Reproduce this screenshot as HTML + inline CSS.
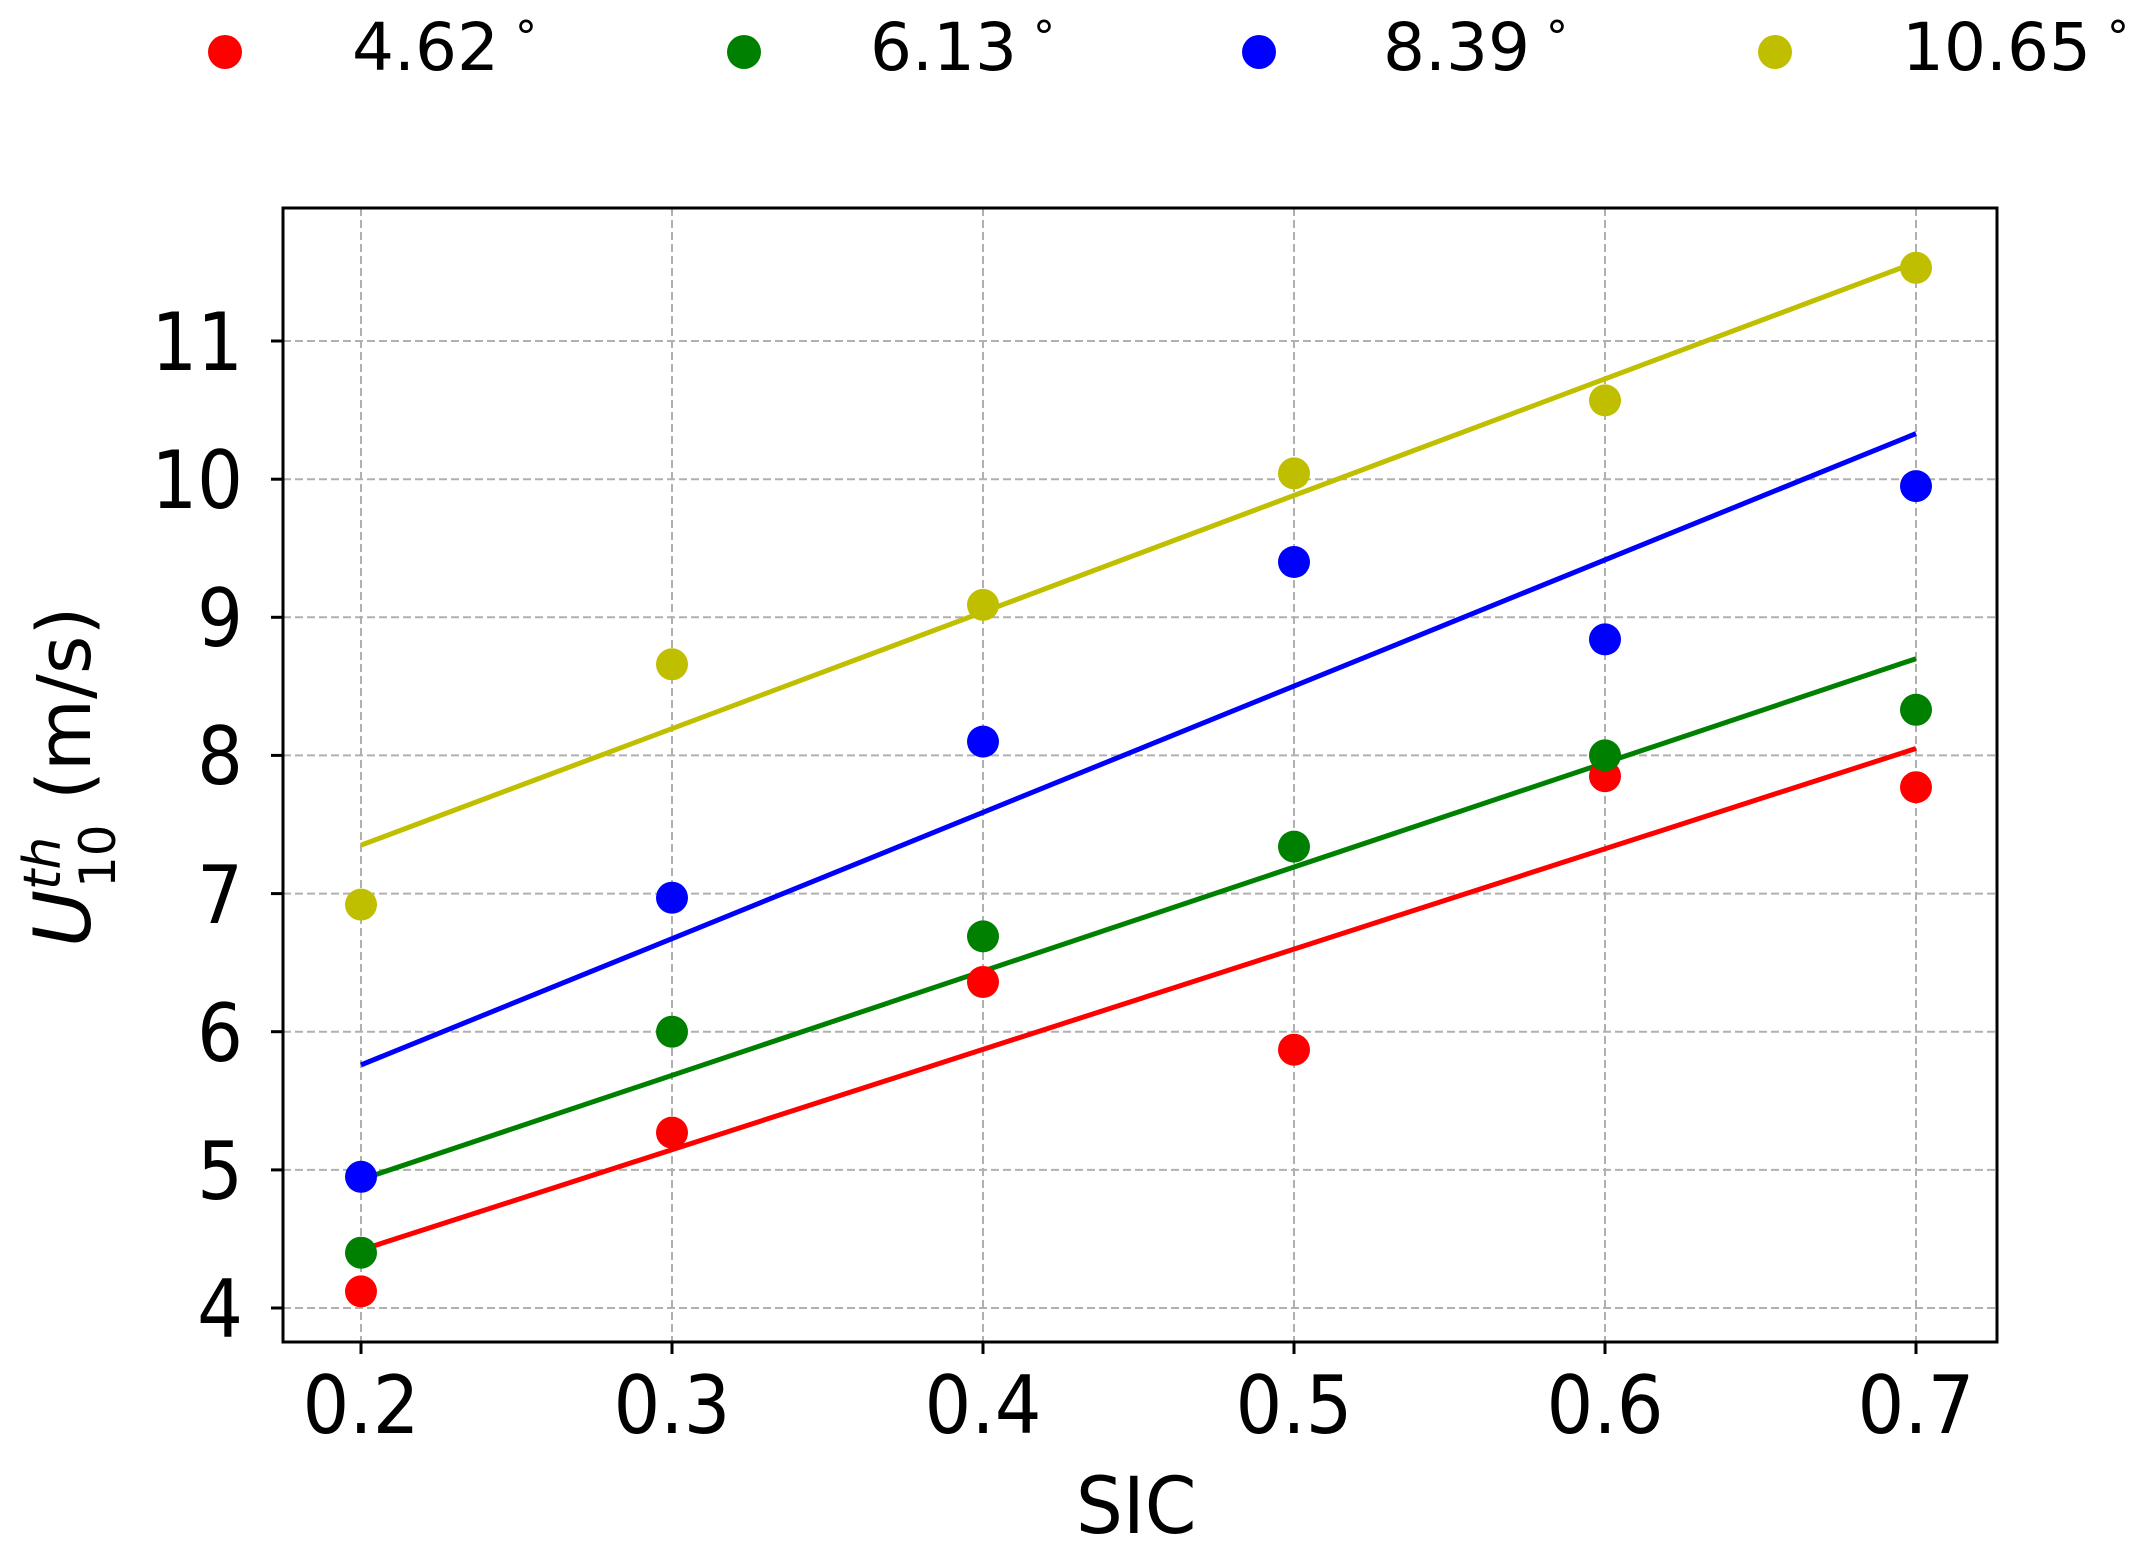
<!DOCTYPE html>
<html><head><meta charset="utf-8"><style>
html,body{margin:0;padding:0;background:#fff;}
svg{display:block;}
text{font-family:"DejaVu Sans","Liberation Sans",sans-serif;fill:#000;}
</style></head><body>
<svg width="2130" height="1553" viewBox="0 0 2130 1553" xmlns="http://www.w3.org/2000/svg">
<rect width="2130" height="1553" fill="#fff"/>
<!-- legend -->
<g font-size="66">
<circle cx="225" cy="52" r="17" fill="#ff0000"/><text x="352" y="70">4.62<tspan font-size="44" dx="16" dy="-18">°</tspan></text>
<circle cx="744" cy="52" r="17" fill="#008000"/><text x="870" y="70">6.13<tspan font-size="44" dx="16" dy="-18">°</tspan></text>
<circle cx="1259" cy="52" r="17" fill="#0000ff"/><text x="1383" y="70">8.39<tspan font-size="44" dx="16" dy="-18">°</tspan></text>
<circle cx="1775" cy="52" r="17" fill="#bfbf00"/><text x="1902" y="70">10.65<tspan font-size="44" dx="16" dy="-18">°</tspan></text>
</g>
<!-- grid -->
<g stroke="#b0b0b0" stroke-width="2" stroke-dasharray="8,4">
<line x1="361" y1="208" x2="361" y2="1342"/><line x1="672" y1="208" x2="672" y2="1342"/>
<line x1="983" y1="208" x2="983" y2="1342"/><line x1="1294" y1="208" x2="1294" y2="1342"/>
<line x1="1605" y1="208" x2="1605" y2="1342"/><line x1="1916" y1="208" x2="1916" y2="1342"/>
<line x1="283" y1="1308" x2="1997" y2="1308"/><line x1="283" y1="1169.9" x2="1997" y2="1169.9"/>
<line x1="283" y1="1031.7" x2="1997" y2="1031.7"/><line x1="283" y1="893.6" x2="1997" y2="893.6"/>
<line x1="283" y1="755.4" x2="1997" y2="755.4"/><line x1="283" y1="617.3" x2="1997" y2="617.3"/>
<line x1="283" y1="479.2" x2="1997" y2="479.2"/><line x1="283" y1="341" x2="1997" y2="341"/>
</g>
<!-- lines -->
<g stroke-width="5">
<line x1="361" y1="1250.0" x2="1916" y2="748.5" stroke="#ff0000"/>
<line x1="361" y1="1179.5" x2="1916" y2="658.7" stroke="#008000"/>
<line x1="361" y1="1064.9" x2="1916" y2="433.6" stroke="#0000ff"/>
<line x1="361" y1="845.2" x2="1916" y2="262.3" stroke="#bfbf00"/>
</g>
<!-- points -->
<g fill="#ff0000">
<circle cx="361" cy="1291.4" r="16"/><circle cx="672" cy="1132.6" r="16"/><circle cx="983" cy="982.0" r="16"/>
<circle cx="1294" cy="1049.7" r="16"/><circle cx="1605" cy="776.2" r="16"/><circle cx="1916" cy="787.2" r="16"/>
</g>
<g fill="#008000">
<circle cx="361" cy="1252.7" r="16"/><circle cx="672" cy="1031.7" r="16"/><circle cx="983" cy="936.4" r="16"/>
<circle cx="1294" cy="846.6" r="16"/><circle cx="1605" cy="755.4" r="16"/><circle cx="1916" cy="709.8" r="16"/>
</g>
<g fill="#0000ff">
<circle cx="361" cy="1176.8" r="16"/><circle cx="672" cy="897.7" r="16"/><circle cx="983" cy="741.6" r="16"/>
<circle cx="1294" cy="562.0" r="16"/><circle cx="1605" cy="639.4" r="16"/><circle cx="1916" cy="486.1" r="16"/>
</g>
<g fill="#bfbf00">
<circle cx="361" cy="904.6" r="16"/><circle cx="672" cy="664.3" r="16"/><circle cx="983" cy="604.9" r="16"/>
<circle cx="1294" cy="473.4" r="16"/><circle cx="1605" cy="400.4" r="16"/><circle cx="1916" cy="267.8" r="16"/>
</g>
<!-- axes box -->
<rect x="283" y="208" width="1714" height="1134" fill="none" stroke="#000" stroke-width="3"/>
<!-- ticks -->
<g stroke="#000" stroke-width="3">
<line x1="361" y1="1342" x2="361" y2="1354"/><line x1="672" y1="1342" x2="672" y2="1354"/><line x1="983" y1="1342" x2="983" y2="1354"/>
<line x1="1294" y1="1342" x2="1294" y2="1354"/><line x1="1605" y1="1342" x2="1605" y2="1354"/><line x1="1916" y1="1342" x2="1916" y2="1354"/>
<line x1="271" y1="1308" x2="283" y2="1308"/><line x1="271" y1="1169.9" x2="283" y2="1169.9"/><line x1="271" y1="1031.7" x2="283" y2="1031.7"/>
<line x1="271" y1="893.6" x2="283" y2="893.6"/><line x1="271" y1="755.4" x2="283" y2="755.4"/><line x1="271" y1="617.3" x2="283" y2="617.3"/>
<line x1="271" y1="479.2" x2="283" y2="479.2"/><line x1="271" y1="341" x2="283" y2="341"/>
</g>
<g font-size="80" text-anchor="middle" transform="scale(0.92 1)">
<text x="392.4" y="1433">0.2</text><text x="730.4" y="1433">0.3</text><text x="1068.5" y="1433">0.4</text>
<text x="1406.5" y="1433">0.5</text><text x="1744.6" y="1433">0.6</text><text x="2082.6" y="1433">0.7</text>
</g>
<g font-size="80" text-anchor="end" transform="scale(0.9 1)">
<text x="270" y="1337">4</text><text x="270" y="1199">5</text><text x="270" y="1061">6</text><text x="270" y="923">7</text>
<text x="270" y="784">8</text><text x="270" y="646">9</text><text x="270" y="508">10</text><text x="270" y="370">11</text>
</g>
<text x="1196" y="1533" font-size="78" text-anchor="middle" transform="scale(0.95 1)">SIC</text>
<g transform="rotate(-90)">
<text x="-947" y="90" font-size="78" font-style="italic">U</text>
<text x="-890" y="60" font-size="52" font-style="italic">th</text>
<text x="-888" y="115" font-size="50">10</text>
<text x="-800" y="90" font-size="74">(m/s)</text>
</g>
</svg>
</body></html>
